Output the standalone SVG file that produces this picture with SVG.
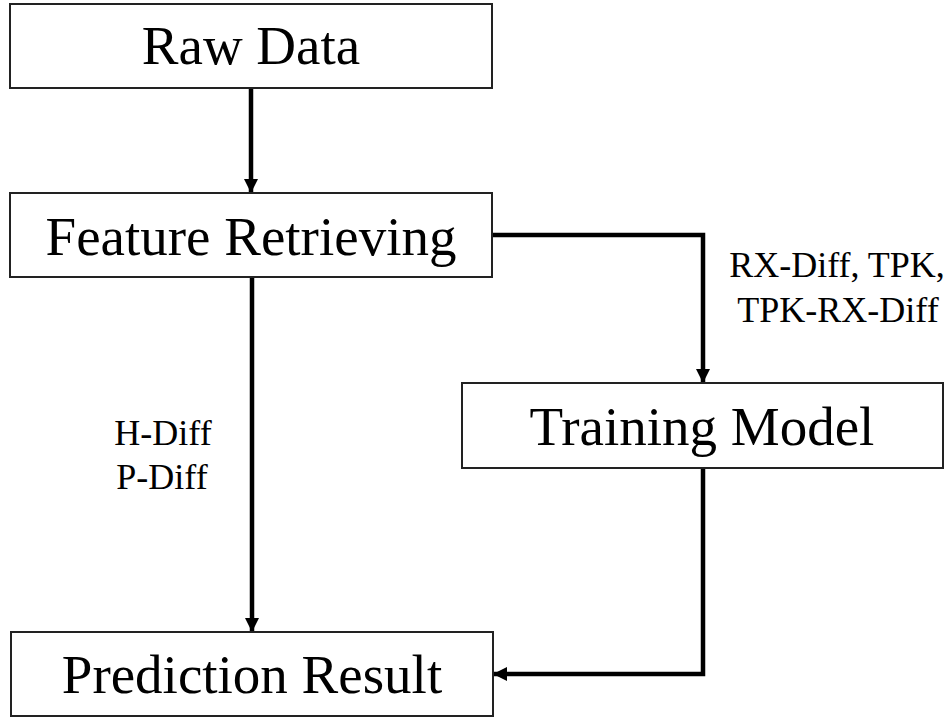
<svg xmlns="http://www.w3.org/2000/svg" width="951" height="719" viewBox="0 0 951 719">
<defs>
<style>
.box{fill:#fff;stroke:#222;stroke-width:2}
.t{font-family:"Liberation Serif","Times New Roman",serif;fill:#000;text-anchor:middle}
.big{font-size:55px}
.lbl{font-size:36px}
.c{fill:none;stroke:#000;stroke-width:4.5;stroke-linejoin:miter}
</style>
<marker id="ah" viewBox="0 0 14 14" refX="13" refY="7" markerWidth="14" markerHeight="14" markerUnits="userSpaceOnUse" orient="auto">
<path d="M0,0 L14,7 L0,14 Z" fill="#000"/>
</marker>
</defs>
<rect width="951" height="719" fill="#fff"/>
<g id="connectors">
<path class="c" d="M251,88 V192" marker-end="url(#ah)"/>
<path class="c" d="M492,235 H703 V382" marker-end="url(#ah)"/>
<path class="c" d="M252,277 V631" marker-end="url(#ah)"/>
<path class="c" d="M703,468 V674 H494" marker-end="url(#ah)"/>
<text class="t lbl" x="837" y="277">RX-Diff, TPK,</text>
<text class="t lbl" x="838" y="322">TPK-RX-Diff</text>
<text class="t lbl" x="163" y="445">H-Diff</text>
<text class="t lbl" x="162" y="489">P-Diff</text>
</g>
<g id="raw-data">
<rect class="box" x="10" y="4" width="482" height="84"/>
<text class="t big" x="251" y="64">Raw Data</text>
</g>
<g id="feature-retrieving">
<rect class="box" x="10" y="193" width="482" height="84"/>
<text class="t big" x="251" y="255">Feature Retrieving</text>
</g>
<g id="training-model">
<rect class="box" x="462" y="383" width="481" height="85"/>
<text class="t big" x="702" y="445">Training Model</text>
</g>
<g id="prediction-result">
<rect class="box" x="11" y="632" width="482" height="84"/>
<text class="t big" x="252" y="693">Prediction Result</text>
</g>
</svg>
